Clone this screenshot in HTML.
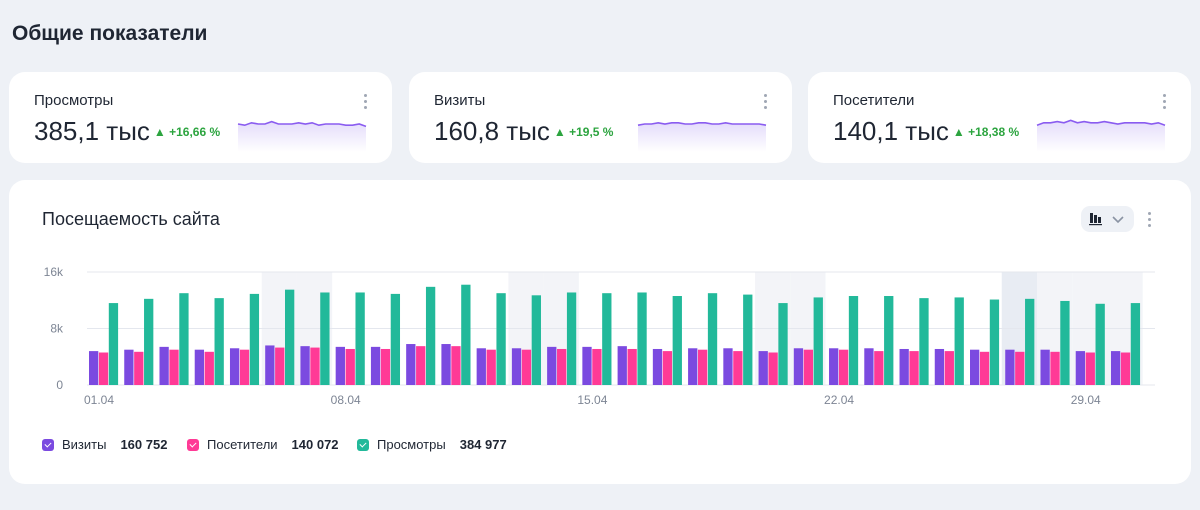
<!DOCTYPE html>
<html><head><meta charset="utf-8">
<style>
*{box-sizing:border-box;margin:0;padding:0}
body{width:1200px;height:510px;background:#eef1f6;font-family:"Liberation Sans",sans-serif;color:#1f2633;position:relative;overflow:hidden}
.abs{position:absolute}
.card{position:absolute;background:#fff;border-radius:16px}
.kt{position:absolute;left:25px;top:20px;font-size:15px;color:#1f2633}
.kv{position:absolute;left:25px;top:44px;font-size:26px;color:#1f2633;white-space:nowrap}
.kd{font-size:12px;color:#2ca43f;margin-left:4px;font-weight:bold;vertical-align:4px}
.dots{position:absolute;width:3px;top:22px}
.dots i{display:block;width:3px;height:3px;border-radius:50%;background:#a0a7b4;margin-bottom:3px}
.spark{position:absolute;left:228px;top:44px}
.leg{position:absolute;top:437px;font-size:13px;display:flex;align-items:center}
.leg b{font-weight:bold;margin-left:14px}
.cb{width:12px;height:12px;border-radius:3px;margin-right:8px;position:relative}
.cb:after{content:"";position:absolute;left:3px;top:3px;width:5px;height:3px;border-left:1.5px solid #fff;border-bottom:1.5px solid #fff;transform:rotate(-45deg)}
</style></head><body>
<div class="abs" style="left:12px;top:22px;font-size:21px;font-weight:bold">Общие показатели</div>

<div class="card" style="left:9px;top:72px;width:383px;height:91px">
<div class="kt">Просмотры</div>
<div class="kv">385,1 тыс<span class="kd">▲ +16,66 %</span></div>
<div class="dots" style="left:355px"><i></i><i></i><i></i></div>
<svg class="spark" width="130" height="36"><g class="sp"></g></svg>
</div>
<div class="card" style="left:409px;top:72px;width:383px;height:91px">
<div class="kt">Визиты</div>
<div class="kv">160,8 тыс<span class="kd">▲ +19,5 %</span></div>
<div class="dots" style="left:355px"><i></i><i></i><i></i></div>
<svg class="spark" width="130" height="36"><g class="sp"></g></svg>
</div>
<div class="card" style="left:808px;top:72px;width:383px;height:91px">
<div class="kt">Посетители</div>
<div class="kv">140,1 тыс<span class="kd">▲ +18,38 %</span></div>
<div class="dots" style="left:355px"><i></i><i></i><i></i></div>
<svg class="spark" width="130" height="36"><g class="sp"></g></svg>
</div>

<div class="card" style="left:9px;top:180px;width:1182px;height:304px"></div>
<div class="abs" style="left:42px;top:209px;font-size:18px">Посещаемость сайта</div>
<div class="abs" style="left:1081px;top:206px;width:53px;height:26px;background:#eef1f6;border-radius:9px">
<svg width="53" height="26"><rect x="9" y="7" width="3" height="10" fill="#1f2633"/><rect x="13" y="9" width="3" height="8" fill="#1f2633"/><rect x="17" y="11" width="3" height="6" fill="#1f2633"/><rect x="8" y="18" width="13" height="1.2" fill="#1f2633"/><path d="M32 11l5 5 5-5" stroke="#8a93a3" stroke-width="1.6" fill="none"/></svg></div>
<div class="dots" style="left:1148px;top:212px"><i></i><i></i><i></i></div>

<svg class="abs" style="left:0;top:0" width="1200" height="510" id="chart"></svg>

<div class="leg" style="left:42px"><span class="cb" style="background:#7b4ae0"></span>Визиты<b>160 752</b></div>
<div class="leg" style="left:187px"><span class="cb" style="background:#ff3a96"></span>Посетители<b>140 072</b></div>
<div class="leg" style="left:357px"><span class="cb" style="background:#22b99a"></span>Просмотры<b>384 977</b></div>

<script>
const days=[1,2,3,4,5,6,7,8,9,10,11,12,13,14,15,16,17,18,19,20,21,22,23,24,25,26,27,28,29,30];
const visits=[4.8,5.0,5.4,5.0,5.2,5.6,5.5,5.4,5.4,5.8,5.8,5.2,5.2,5.4,5.4,5.5,5.1,5.2,5.2,4.8,5.2,5.2,5.2,5.1,5.1,5.0,5.0,5.0,4.8,4.8];
const visitors=[4.6,4.7,5.0,4.7,5.0,5.3,5.3,5.1,5.1,5.5,5.5,5.0,5.0,5.1,5.1,5.1,4.8,5.0,4.8,4.6,5.0,5.0,4.8,4.8,4.8,4.7,4.7,4.7,4.6,4.6];
const views=[11.6,12.2,13.0,12.3,12.9,13.5,13.1,13.1,12.9,13.9,14.2,13.0,12.7,13.1,13.0,13.1,12.6,13.0,12.8,11.6,12.4,12.6,12.6,12.3,12.4,12.1,12.2,11.9,11.5,11.6];
const yTicks=[0,8,16];
const yTickLabels=["0","8k","16k"];
const xTickDays=[1,8,15,22,29];
const xTickLabels=["01.04","08.04","15.04","22.04","29.04"];
const weekendDays=[6,7,13,14,20,21,27,28,29,30];
const sparkViews=[5,6,4,5,5,3,5,5,5,4,5,4,6,5,5,5,6,6,5,7];
const sparkVisits=[6,5,5,4,5,4,4,5,5,4,4,5,5,4,5,5,5,5,5,6];
const sparkVisitors=[6,4,4,3,4,2,4,3,4,4,3,4,5,4,4,4,4,5,4,6];

const NS="http://www.w3.org/2000/svg";
const svg=document.getElementById('chart');
const X0=89,SLOT=35.24,BW=9.3,Y0=385,YTOP=272,XL=60,XR=1155;
const xs=d=>X0+(d-1)*SLOT;
const ys=v=>Y0-(v/16)*(Y0-YTOP);
function mk(t,a){const e=document.createElementNS(NS,t);for(const k in a)e.setAttribute(k,a[k]);svg.appendChild(e);return e;}
weekendDays.forEach(d=>{
  const r=mk('rect',{x:xs(d)-3.5,y:YTOP,width:SLOT,height:Y0-YTOP,fill:d===27?'#e8ecf3':'#f3f4f8'});
  
  
});
yTicks.forEach((t,i)=>{
  const l=mk('line',{x1:XL+27,x2:XR,y1:ys(t),y2:ys(t),stroke:'#e4e7ee','stroke-width':1});
  
  
  const tx=mk('text',{x:63,y:ys(t)+4,'text-anchor':'end',fill:'#7d8594','font-size':12,'font-family':'Liberation Sans'});
  tx.textContent=yTickLabels[i];
  
  
});
xTickDays.forEach((d,i)=>{
  const tx=mk('text',{x:xs(d)+10,y:404,'text-anchor':'middle',fill:'#7d8594','font-size':12,'font-family':'Liberation Sans'});
  tx.textContent=xTickLabels[i];
  
  
});
const series=[[visits,'#7b4ae0','bar-visits'],[visitors,'#ff3a96','bar-visitors'],[views,'#22b99a','bar-views']];
days.forEach((d,i)=>{
  series.forEach((s,j)=>{
    const v=s[0][i];
    const r=mk('rect',{x:xs(d)+j*(BW+0.6),y:ys(v),width:BW,height:Y0-ys(v),fill:s[1]});
    
    
  });
});
const sparks=[sparkViews,sparkVisits,sparkVisitors];
document.querySelectorAll('.sp').forEach((g,k)=>{
  const arr=sparks[k],n=arr.length;
  const pts=arr.map((v,i)=>[1+i*(128/(n-1)),2+v*1.2]);
  const line=pts.map(p=>p.join(',')).join(' ');
  const grad=`<defs><linearGradient id="sg${k}" x1="0" y1="0" x2="0" y2="1"><stop offset="0" stop-color="#e4dcfb"/><stop offset="1" stop-color="#fff"/></linearGradient></defs>`;
  g.innerHTML=grad+`<polygon points="${line} 129,36 1,36" fill="url(#sg${k})"/><polyline points="${line}" fill="none" stroke="#8a5cf0" stroke-width="1.6"/>`;
});
</script>
</body></html>
